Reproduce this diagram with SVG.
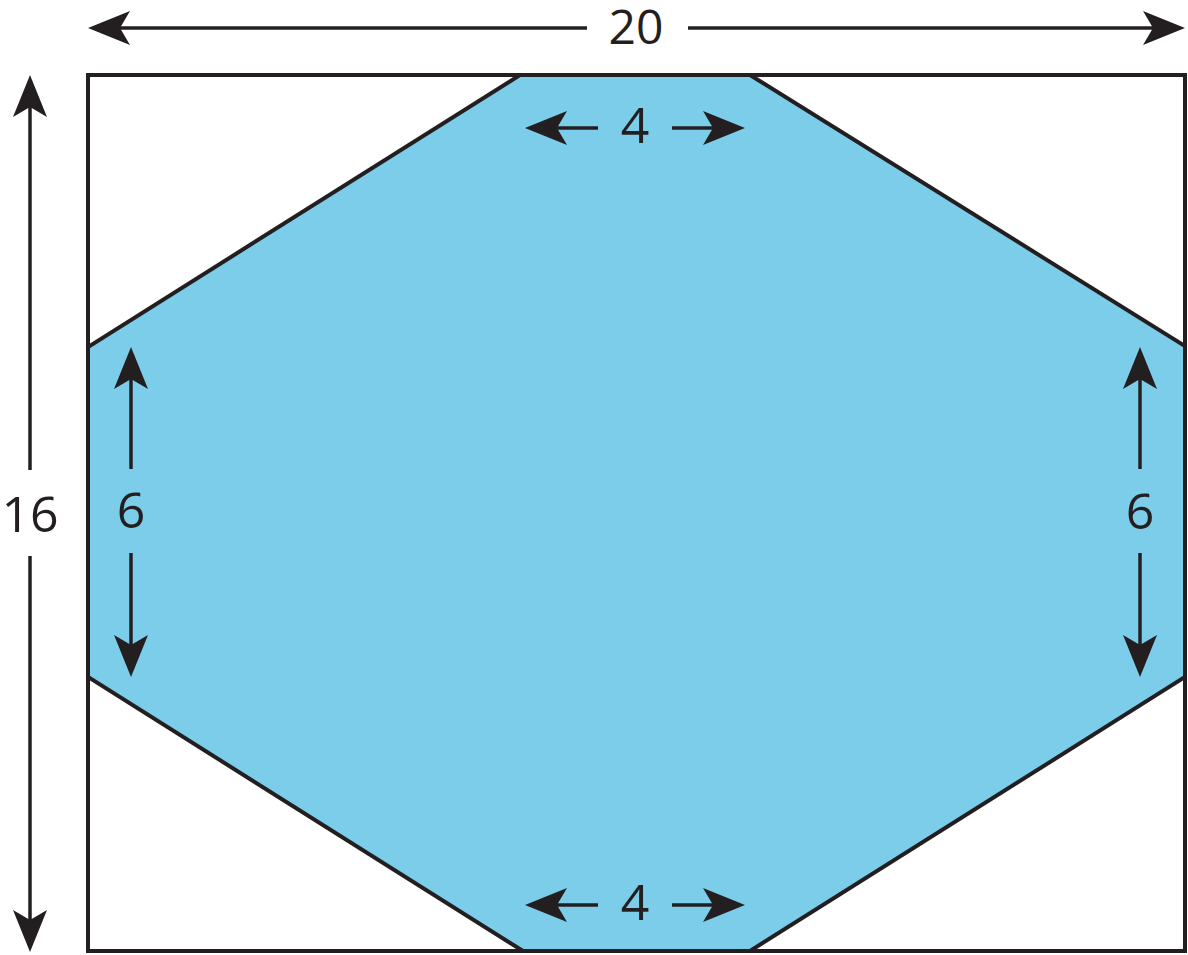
<svg xmlns="http://www.w3.org/2000/svg" xmlns:xlink="http://www.w3.org/1999/xlink" width="1188" height="955" viewBox="0 0 1188 955">
<style>
.ln{stroke:#231f20;stroke-width:3.5;fill:none}
.edge{stroke:#231f20;stroke-width:4;stroke-linejoin:miter}
.hex{fill:#7ccdea}
.frame{fill:none}
.ah{fill:#231f20}
.lbl{font-family:"Open Sans","Noto Sans",sans-serif;font-size:50px;fill:#231f20;text-anchor:middle}
</style>
<defs>
<path id="ah" d="M0,0 L-42,-17 L-32,0 L-42,17 Z"/>
</defs>
<rect width="1188" height="955" fill="#ffffff"/>
<g id="hexagon">
<polygon points="520,75 750,75 1185,346 1185,677 750,951 523,951 88,677 88,347" class="edge hex"/>
</g>
<g id="rectangle">
<rect x="88" y="75" width="1097" height="876" class="edge frame"/>
</g>
<g id="connectors">
<!-- top 20 -->
<line x1="120" y1="28" x2="587" y2="28" class="ln"/>
<line x1="688" y1="28" x2="1153" y2="28" class="ln"/>
<use xlink:href="#ah" class="ah" transform="translate(88,28) rotate(180)"/>
<use xlink:href="#ah" class="ah" transform="translate(1185,28)"/>
<!-- left 16 -->
<line x1="30" y1="107" x2="30" y2="470" class="ln"/>
<line x1="30" y1="556" x2="30" y2="920" class="ln"/>
<use xlink:href="#ah" class="ah" transform="translate(30,75) rotate(-90)"/>
<use xlink:href="#ah" class="ah" transform="translate(30,952) rotate(90)"/>
<!-- top 4 -->
<line x1="555" y1="128" x2="598" y2="128" class="ln"/>
<line x1="672" y1="128" x2="715" y2="128" class="ln"/>
<use xlink:href="#ah" class="ah" transform="translate(525,128) rotate(180)"/>
<use xlink:href="#ah" class="ah" transform="translate(745,128)"/>
<!-- bottom 4 -->
<line x1="555" y1="905" x2="598" y2="905" class="ln"/>
<line x1="672" y1="905" x2="715" y2="905" class="ln"/>
<use xlink:href="#ah" class="ah" transform="translate(525,905) rotate(180)"/>
<use xlink:href="#ah" class="ah" transform="translate(745,905)"/>
<!-- left 6 -->
<line x1="131" y1="379" x2="131" y2="469" class="ln"/>
<line x1="131" y1="553" x2="131" y2="645" class="ln"/>
<use xlink:href="#ah" class="ah" transform="translate(131,347) rotate(-90)"/>
<use xlink:href="#ah" class="ah" transform="translate(131,677) rotate(90)"/>
<!-- right 6 -->
<line x1="1140" y1="379" x2="1140" y2="469" class="ln"/>
<line x1="1140" y1="553" x2="1140" y2="645" class="ln"/>
<use xlink:href="#ah" class="ah" transform="translate(1140,347) rotate(-90)"/>
<use xlink:href="#ah" class="ah" transform="translate(1140,677) rotate(90)"/>
</g>
<g id="labels">
<text class="lbl" x="636" y="44" style="font-size:48px">20</text>
<text class="lbl" x="30" y="532">16</text>
<text class="lbl" x="635" y="143">4</text>
<text class="lbl" x="635" y="920">4</text>
<text class="lbl" x="131" y="528">6</text>
<text class="lbl" x="1140" y="529">6</text>
</g>
</svg>
